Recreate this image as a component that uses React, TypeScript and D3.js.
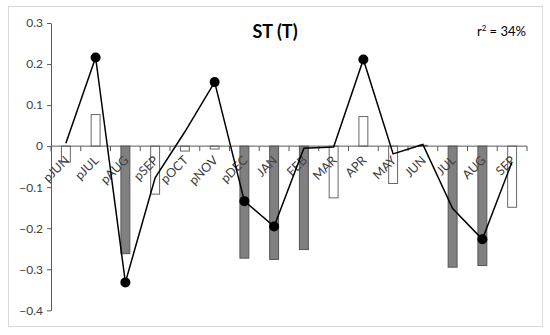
import React, { useEffect, useRef } from "react";
import * as d3 from "d3";

// ─── Data ─────────────────────────────────────────────────────────────────────
const CATEGORIES = [
  "pJUN", "pJUL", "pAUG", "pSEP", "pOCT", "pNOV", "pDEC",
  "JAN", "FEB", "MAR", "APR", "MAY", "JUN", "JUL", "AUG", "SEP",
];
// bar correlations
const BAR_VALUES = [
  -0.039, 0.077, -0.262, -0.117, -0.012, -0.007, -0.273,
  -0.276, -0.252, -0.126, 0.072, -0.091, 0.002, -0.295, -0.291, -0.149,
];
// significant bars are drawn grey
const BAR_SIGNIFICANT = [
  false, false, true, false, false, false, true,
  true, true, false, false, false, false, true, true, false,
];
// line series
const LINE_VALUES = [
  0.007, 0.216, -0.332, -0.077, 0.035, 0.156, -0.134,
  -0.196, -0.005, -0.002, 0.211, -0.019, 0.004, -0.152, -0.227, -0.038,
];
const LINE_DOTS = [
  false, true, true, false, false, true, true,
  true, false, false, true, false, false, false, true, false,
];
const Y_TICKS = [0.3, 0.2, 0.1, 0, -0.1, -0.2, -0.3, -0.4];

// ─── Design tokens ────────────────────────────────────────────────────────────
const W = 550;
const H = 335;
const PLOT = { left: 51, right: 527, top: 23, bottom: 310.3 };
const AXIS = "#595959";
const TEXT = "#404040";
const GREY_BAR = "#808080";
const FONT = "Lato, 'Liberation Sans', sans-serif";

export default function App() {
  const ref = useRef<SVGSVGElement>(null);

  useEffect(() => {
    const node = ref.current;
    if (!node) return;
    const svg = d3.select(node);
    svg.selectAll("*").remove();

    // frame
    svg.append("rect")
      .attr("x", 8.5).attr("y", 6.5)
      .attr("width", 534).attr("height", 320)
      .attr("fill", "#fff").attr("stroke", "#d9d9d9");

    const x = d3.scaleBand<string>().domain(CATEGORIES).range([PLOT.left, PLOT.right]);
    const y = d3.scaleLinear().domain([-0.4, 0.3]).range([PLOT.bottom, PLOT.top]);
    const bw = x.bandwidth();
    const cx = (c: string) => (x(c) ?? 0) + bw / 2;

    // ── Bars ──
    svg.append("g")
      .selectAll("rect")
      .data(CATEGORIES)
      .join("rect")
      .attr("x", (c) => cx(c) - bw * 0.15)
      .attr("width", bw * 0.3)
      .attr("y", (_, i) => y(Math.max(0, BAR_VALUES[i])))
      .attr("height", (_, i) => Math.abs(y(BAR_VALUES[i]) - y(0)))
      .attr("fill", (_, i) => (BAR_SIGNIFICANT[i] ? GREY_BAR : "#fff"))
      .attr("stroke", (_, i) => (BAR_SIGNIFICANT[i] ? "#555" : "#666"))
      .attr("stroke-width", 1);

    // ── Y axis ──
    const yAxis = svg.append("g")
      .attr("transform", `translate(${PLOT.left},0)`)
      .call(d3.axisLeft(y).tickValues(Y_TICKS).tickSize(4).tickSizeOuter(0)
        .tickFormat((d) => (+d === 0 ? "0" : d3.format(".1f")(+d).replace("-", "\u2212"))));
    yAxis.select(".domain").attr("stroke", AXIS);
    yAxis.selectAll(".tick line").attr("stroke", AXIS);
    yAxis.selectAll("text")
      .attr("fill", TEXT).attr("font-size", 12).attr("font-family", FONT)
      .attr("x", -8);

    // ── X axis at zero ──
    const xAxis = svg.append("g").attr("transform", `translate(0,${y(0)})`);
    xAxis.append("line")
      .attr("x1", PLOT.left).attr("x2", PLOT.right)
      .attr("stroke", AXIS);
    xAxis.selectAll("line.tk")
      .data([...CATEGORIES.map((c) => x(c) ?? 0), PLOT.right])
      .join("line")
      .attr("class", "tk")
      .attr("x1", (d) => d).attr("x2", (d) => d)
      .attr("y1", 0).attr("y2", 5)
      .attr("stroke", AXIS);
    xAxis.selectAll("text")
      .data(CATEGORIES)
      .join("text")
      .attr("transform", (c) => `translate(${cx(c) + 4},${15}) rotate(-45)`)
      .attr("text-anchor", "end")
      .attr("fill", TEXT)
      .attr("font-size", 12.5)
      .attr("font-family", FONT)
      .text((c) => c);

    // ── Line ──
    const line = d3.line<number>()
      .x((_, i) => cx(CATEGORIES[i]))
      .y((d) => y(d));
    svg.append("path")
      .datum(LINE_VALUES)
      .attr("d", line)
      .attr("fill", "none")
      .attr("stroke", "#000")
      .attr("stroke-width", 1.5);

    svg.append("g")
      .selectAll("circle")
      .data(LINE_VALUES.map((v, i) => ({ v, i })).filter((d) => LINE_DOTS[d.i]))
      .join("circle")
      .attr("cx", (d) => cx(CATEGORIES[d.i]))
      .attr("cy", (d) => y(d.v))
      .attr("r", 5)
      .attr("fill", "#000");

    // ── Title & r² ──
    svg.append("text")
      .attr("x", 275).attr("y", 38)
      .attr("text-anchor", "middle")
      .attr("font-family", FONT)
      .attr("font-weight", "bold")
      .attr("font-size", 18)
      .attr("fill", "#000")
      .text("ST (T)");

    const r2 = svg.append("text")
      .attr("x", 526).attr("y", 36)
      .attr("text-anchor", "end")
      .attr("font-family", FONT)
      .attr("font-size", 13)
      .attr("fill", "#000");
    r2.append("tspan").text("r");
    r2.append("tspan").attr("font-size", 8).attr("dy", -5).text("2");
    r2.append("tspan").attr("dy", 5).text(" = 34%");
  }, []);

  return (
    <svg
      ref={ref}
      width={W}
      height={H}
      style={{ position: "absolute", left: 0, top: 0, background: "#fff" }}
    />
  );
}
